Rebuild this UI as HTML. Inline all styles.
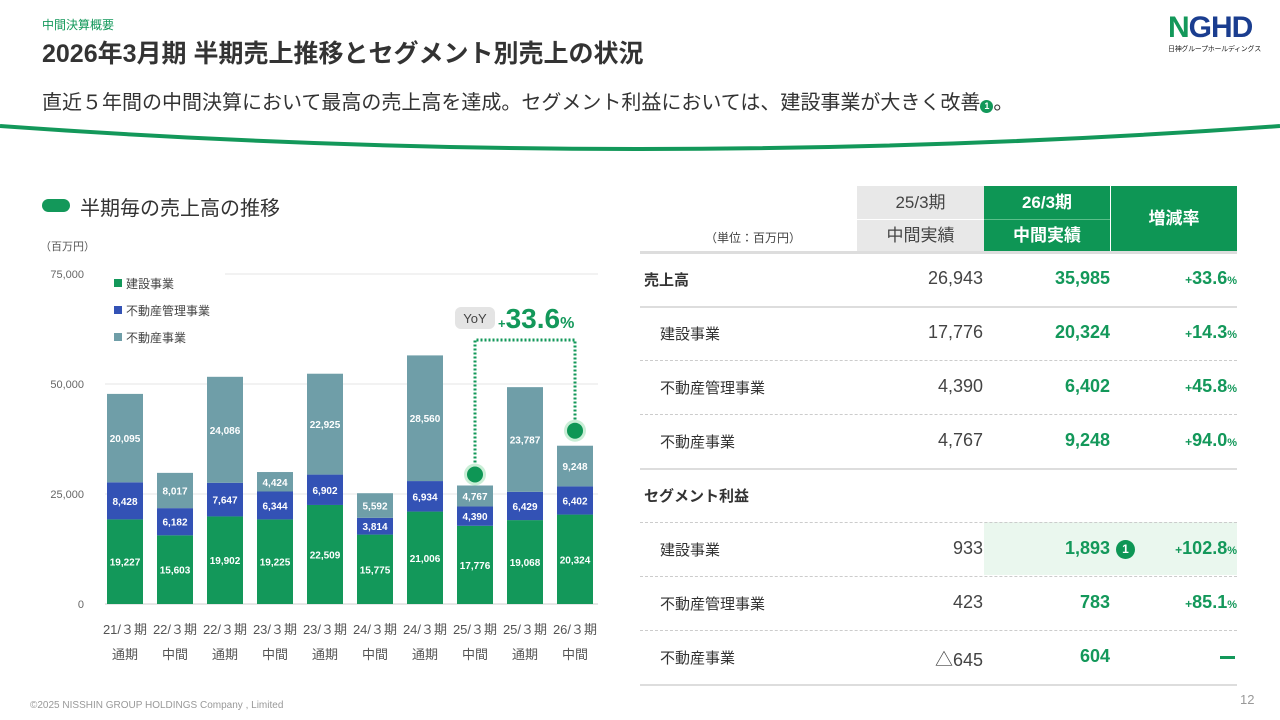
<!DOCTYPE html>
<html lang="ja"><head><meta charset="utf-8">
<style>
body{margin:0;width:1280px;height:720px;overflow:hidden;background:#fff;font-family:"Liberation Sans","Noto Sans CJK JP",sans-serif;color:#333;position:relative}
.abs{position:absolute}
</style></head><body>
<div class="abs" style="left:42px;top:16px;font-size:12px;color:#13985a">中間決算概要</div>
<div class="abs" style="left:42px;top:34px;font-size:25px;font-weight:bold;color:#333">2026年3月期 半期売上推移とセグメント別売上の状況</div>
<div class="abs" style="left:42px;top:86px;font-size:20px;color:#333">直近５年間の中間決算において最高の売上高を達成。セグメント利益においては、建設事業が大きく改善<span style="display:inline-block;width:13px;height:13px;border-radius:50%;background:#13985a;color:#fff;font-size:9px;text-align:center;line-height:13px;font-weight:bold;vertical-align:0px">1</span>。</div>
<div class="abs" style="left:1168px;top:12px;width:92px;height:50px">
<div style="font-size:30px;font-weight:bold;color:#1a3d8f;letter-spacing:-1px;line-height:32px"><span style="color:#13985a">N</span>GHD</div>
<div style="font-size:7px;color:#222;white-space:nowrap;letter-spacing:-0.3px">日神グループホールディングス</div></div>
<svg class="abs" style="left:0;top:0" width="1280" height="160"><path d="M0,126 Q640,172 1280,126" stroke="#13985a" stroke-width="4" fill="none"/></svg>

<div class="abs" style="left:42px;top:199px;width:28px;height:13px;border-radius:7px;background:#13985a"></div>
<div class="abs" style="left:80px;top:192px;font-size:20px;color:#333">半期毎の売上高の推移</div>
<div class="abs" style="left:40px;top:238px;font-size:11px;color:#555">（百万円）</div>

<svg id="chart" class="abs" style="left:0;top:0" width="640" height="720"></svg>

<div class="abs" style="left:705px;top:229px;font-size:12px;color:#444">（単位：百万円）</div>
<div class="abs" style="left:857px;top:186px;width:127px;height:66px;background:#e8e8e8;color:#444;font-size:17px;text-align:center">
<div style="height:33px;line-height:33px;border-bottom:1px solid #fff">25/3期</div><div style="line-height:32px">中間実績</div></div>
<div class="abs" style="left:984px;top:186px;width:126px;height:66px;background:#0e9655;color:#fff;font-size:17px;font-weight:bold;text-align:center">
<div style="height:33px;line-height:33px;border-bottom:1px solid #5bbf8a">26/3期</div><div style="line-height:32px">中間実績</div></div>
<div class="abs" style="left:1111px;top:186px;width:126px;height:66px;background:#0e9655;color:#fff;font-size:17px;font-weight:bold;text-align:center;line-height:66px">増減率</div>
<div class="abs" style="left:640px;top:251px;width:597px;height:3px;background:#ddd"></div>
<div class="abs" style="left:984px;top:522px;width:253px;height:53px;background:#eaf7ee"></div>
<div id="rows"></div>
<div class="abs" style="left:30px;top:700px;font-size:10px;color:#999">©2025 NISSHIN GROUP HOLDINGS Company , Limited</div>
<div class="abs" style="left:1240px;top:692px;font-size:13px;color:#999">12</div>

<script>
const categories=["21/３期|通期","22/３期|中間","22/３期|通期","23/３期|中間","23/３期|通期","24/３期|中間","24/３期|通期","25/３期|中間","25/３期|通期","26/３期|中間"];
const construction=[19227,15603,19902,19225,22509,15775,21006,17776,19068,20324];
const management=[8428,6182,7647,6344,6902,3814,6934,4390,6429,6402];
const realestate=[20095,8017,24086,4424,22925,5592,28560,4767,23787,9248];
const yTicks=[0,25000,50000,75000];
const yoyLabel="+33.6";
const colors=["#13985a","#3352b5","#6f9ea8"];
const seriesNames=["建設事業","不動産管理事業","不動産事業"];
const NS="http://www.w3.org/2000/svg";
const svg=document.getElementById('chart');
const y=v=>604-v*110/25000;
const xc=i=>125+i*50;
const bw=36;
function mk(t,a){const e=document.createElementNS(NS,t);for(const k in a)e.setAttribute(k,a[k]);svg.appendChild(e);return e;}
yTicks.forEach(t=>{
  const g=mk('line',{x1:t===75000?225:105,x2:598,y1:y(t),y2:y(t),stroke:t===0?'#ccc':'#e6e6e6','stroke-width':1});
  
  
  const l=mk('text',{x:84,y:y(t)+4,'text-anchor':'end','font-size':11,fill:'#666'});
  l.textContent=t.toLocaleString('en-US');
  
  
});
const series=[construction,management,realestate];
categories.forEach((c,i)=>{
  let base=0;
  series.forEach((s,k)=>{
    const v=s[i];
    const r=mk('rect',{x:xc(i)-bw/2,y:y(base+v),width:bw,height:y(base)-y(base+v),fill:colors[k]});
    
    
    const t=mk('text',{x:xc(i),y:(y(base)+y(base+v))/2+4,'text-anchor':'middle','font-size':10,'font-weight':'bold',fill:'#fff'});
    t.textContent=v.toLocaleString('en-US');
    
    
    base+=v;
  });
  const [a,b]=c.split('|');
  const t1=mk('text',{x:xc(i),y:634,'text-anchor':'middle','font-size':13,fill:'#555'});t1.textContent=a;
  
  
  const t2=mk('text',{x:xc(i),y:659,'text-anchor':'middle','font-size':13,fill:'#555'});t2.textContent=b;
  
  
});
seriesNames.forEach((n,k)=>{
  const r=mk('rect',{x:114,y:279+k*27,width:8,height:8,fill:colors[k]});
  
  
  const t=mk('text',{x:126,y:288+k*27,'font-size':12,fill:'#444'});t.textContent=n;
  
  
});
const tot=i=>construction[i]+management[i]+realestate[i];
const i1=7,i2=9,ly=340;
const d1=y(tot(i1))-11,d2=y(tot(i2))-15;
const pl=mk('polyline',{points:`${xc(i1)},${d1} ${xc(i1)},${ly} ${xc(i2)},${ly} ${xc(i2)},${d2}`,fill:'none',stroke:'#13985a','stroke-width':3,'stroke-dasharray':'2 2'});


[[i1,d1],[i2,d2]].forEach(([i,dy])=>{
  mk('circle',{cx:xc(i),cy:dy,r:11,fill:'#c9eed6'});
  const c=mk('circle',{cx:xc(i),cy:dy,r:8,fill:'#0e9655'});
  
  
});
const bx=mk('rect',{x:455,y:307,width:40,height:22,rx:6,fill:'#e4e4e4'});


const yt=mk('text',{x:475,y:323,'text-anchor':'middle','font-size':13,fill:'#444'});yt.textContent='YoY';
const yv=mk('text',{x:498,y:328,'font-size':28,'font-weight':'bold',fill:'#13985a'});
yv.innerHTML=`<tspan font-size="13">${yoyLabel[0]}</tspan>${yoyLabel.slice(1)}<tspan font-size="16">%</tspan>`;



const rows=[
 ["売上高","26,943","35,985","+33.6","",true],
 ["建設事業","17,776","20,324","+14.3","",false],
 ["不動産管理事業","4,390","6,402","+45.8","",false],
 ["不動産事業","4,767","9,248","+94.0","",false],
 ["セグメント利益","","","","",true],
 ["建設事業","933","1,893","+102.8","1",false],
 ["不動産管理事業","423","783","+85.1","",false],
 ["不動産事業","△645","604","—","",false]];
const borders=["solid","dashed","dashed","solid","dashed","dashed","dashed","solid"];
let h='';
rows.forEach((r,i)=>{
  const top=253+i*54;
  const bc=borders[i]==='solid'?'border-bottom:2px solid #ddd':'border-bottom:1px dashed #ccc';
  h+=`<div class="abs" style="left:640px;top:${top}px;width:597px;height:53px;${bc}">`;
  h+=`<div class="abs" style="left:${r[5]?4:20}px;top:16px;font-size:15px;${r[5]?'font-weight:bold':''}">${r[0]}</div>`;
  h+=`<div class="abs" style="right:254px;top:15px;font-size:18px;color:#444">${r[1]}</div>`;
  h+=`<div class="abs" style="right:127px;top:15px;font-size:18px;font-weight:bold;color:#13985a">${r[2]}</div>`;
  if(r[4])h+=`<div class="abs" style="left:476px;top:17px;width:19px;height:19px;border-radius:50%;background:#0e9655;color:#fff;font-size:12px;font-weight:bold;text-align:center;line-height:19px">1</div>`;
  if(r[3]){
    if(r[3]==='—')h+=`<div class="abs" style="right:2px;top:25px;width:15px;height:3px;background:#13985a"></div>`;
    else h+=`<div class="abs" style="right:0;top:15px;font-size:18px;font-weight:bold;color:#13985a"><span style="font-size:12px">+</span>${r[3].slice(1)}<span style="font-size:11px">%</span></div>`;
  }
  h+='</div>';
});
document.getElementById('rows').innerHTML=h;
</script>
</body></html>
